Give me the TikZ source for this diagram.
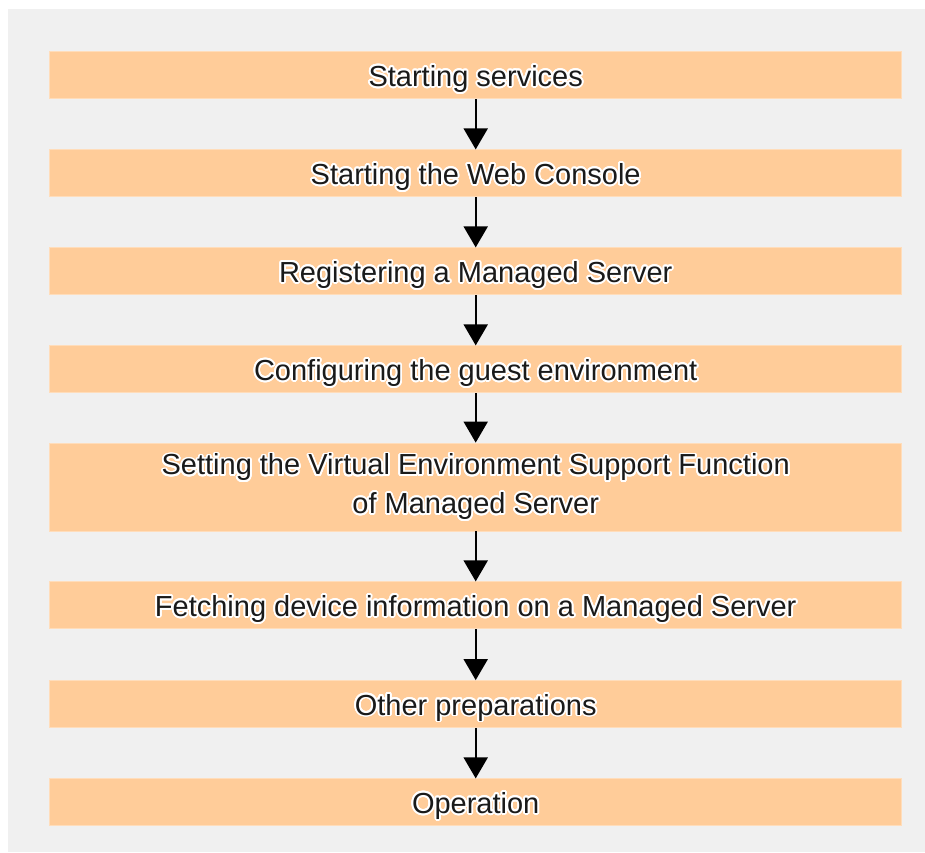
\documentclass[tikz,border=0pt]{standalone}
\usepackage{fontspec}
\setmainfont{Liberation Sans}
\usepackage[copies]{contour}
\contourlength{1.8pt}
\contournumber{24}
\usetikzlibrary{arrows.meta}
\definecolor{bggray}{HTML}{F0F0F0}
\definecolor{peach}{HTML}{FFCC99}
\definecolor{peachedge}{HTML}{FFDDBB}
\tikzset{
  stepbox/.style={fill=peach, draw=peachedge, line width=0.8pt, minimum width=852pt, inner sep=0pt,
    font=\fontsize{29}{38.7}\selectfont, text={rgb,255:red,26;green,26;blue,26}, align=center},
  oneline/.style={stepbox, minimum height=47pt, text height=22pt, text depth=0pt},
  flow/.style={line width=2pt, -{Triangle[width=24pt,length=21pt]}}
}
\begin{document}
\begin{tikzpicture}[x=1pt,y=-1pt]
\useasboundingbox (0,0) rectangle (925,852);
\fill[white] (0,0) rectangle (925,852);
\fill[bggray] (8,9) rectangle (925,852);
\node[oneline] (s1) at (475.7,75.3) {\contour{white}{Starting services}};
\node[oneline] (s2) at (475.7,173.3) {\contour{white}{Starting the Web Console}};
\node[oneline] (s3) at (475.7,271.3) {\contour{white}{Registering a Managed Server}};
\node[oneline] (s4) at (475.7,369.3) {\contour{white}{Configuring the guest environment}};
\node[stepbox, minimum height=88pt, text depth=6.5pt] (s5) at (475.7,487) {\contour{white}{Setting the Virtual Environment Support Function}\\\contour{white}{of Managed Server}};
\node[oneline] (s6) at (475.7,605.3) {\contour{white}{Fetching device information on a Managed Server}};
\node[oneline] (s7) at (475.7,704) {\contour{white}{Other preparations}};
\node[oneline] (s8) at (475.7,802.3) {\contour{white}{Operation}};
\foreach \a/\b in {s1/s2,s2/s3,s3/s4,s4/s5,s5/s6,s6/s7,s7/s8}
  \draw[flow] (\a.south) -- (\b.north);
\end{tikzpicture}
\end{document}
